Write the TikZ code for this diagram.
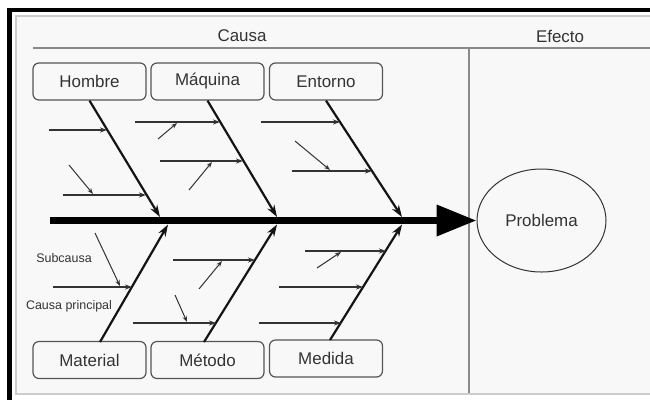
\documentclass[tikz,border=0pt]{standalone}
\usepackage{fontspec}
\setmainfont{Liberation Sans}
\usetikzlibrary{arrows.meta,shapes.geometric}
\definecolor{paper}{HTML}{F8F8F8}
\definecolor{framegray}{HTML}{CCCCCC}
\definecolor{rulegray}{HTML}{8A8A8A}
\definecolor{boxgray}{HTML}{555555}
\definecolor{ink}{HTML}{333333}
\begin{document}
\begin{tikzpicture}[x=1bp,y=-1bp,
  causebox/.style={draw=boxgray, line width=1.2bp, rounded corners=6bp,
    minimum width=113bp, minimum height=37bp, inner sep=0pt,
    font=\fontsize{17}{20}\selectfont, text=ink},
  header/.style={font=\fontsize{17}{20}\selectfont, text=ink},
  smalllabel/.style={font=\fontsize{12.5}{14}\selectfont, text=ink, inner sep=0pt},
  bone/.style={line width=2.2bp, draw=black!92, -{Stealth[length=12bp,width=8bp]}},
  subcause/.style={line width=1.4bp, draw=ink, -{Stealth[length=7bp,width=5bp]}},
  subsub/.style={line width=1bp, draw=ink, -{Stealth[length=6bp,width=4.5bp]}},
  spine/.style={line width=7bp, draw=black, -{Triangle[length=40bp,width=30bp]}}
]
\useasboundingbox (0,0) rectangle (650,400);
\fill[white] (0,0) rectangle (650,400);
% sheet and frame
\fill[paper] (16,16) rectangle (660,394);
\draw[framegray, line width=2bp] (660,15.5) -- (15.5,15.5) -- (15.5,394) -- (660,394);
\fill[black] (7,8) rectangle (650,12);
\fill[black] (7,8) rectangle (12,400);

% header
\draw[rulegray, line width=2bp] (33,48) -- (660,48);
\draw[rulegray, line width=1.5bp] (469,48) -- (469,393);
\node[header] (causa) at (242,36) {Causa};
\node[header] (efecto) at (560,36) {Efecto};

% cause boxes
\node[causebox] (hombre)   at (89.5,81.5) {Hombre};
\node[causebox] (maquina)  at (207.5,81.5) {Máquina};
\node[causebox] (entorno)  at (326,81.5) {Entorno};
\node[causebox] (material) at (89.5,360) {Material};
\node[causebox] (metodo)   at (207.5,360) {Método};
\node[causebox] (medida)   at (326,358.5) {Medida};

% effect
\node[ellipse, draw=ink, line width=1bp, minimum width=129bp, minimum height=103bp,
      font=\fontsize{17}{20}\selectfont, text=ink] (problema) at (541.5,220.5) {Problema};

% spine
\coordinate (tail) at (50,220.5);
\draw[spine] (tail) -- (problema.west);

% bone ends on the spine
\coordinate (t1) at (160,217);
\coordinate (t2) at (277,217);
\coordinate (t3) at (402,217);
\coordinate (b1) at (168,224.5);
\coordinate (b2) at (277,224.5);
\coordinate (b3) at (402,224.5);
\coordinate (m1) at (100,342);
\coordinate (m2) at (204,342);
\coordinate (m3) at (330,340);

\draw[bone] (hombre.south) -- (t1);
\draw[bone] (maquina.south) -- (t2);
\draw[bone] (entorno.south) -- (t3);
\draw[bone] (m1) -- (b1);
\draw[bone] (m2) -- (b2);
\draw[bone] (m3) -- (b3);

% Hombre
\coordinate (h1s) at (49,130);  \coordinate (h1e) at (107,130);
\coordinate (h2s) at (63,195);  \coordinate (h2e) at (146,195);
\coordinate (h3s) at (69,165);  \coordinate (h3e) at (93,194);
\draw[subcause] (h1s) -- (h1e);
\draw[subcause] (h2s) -- (h2e);
\draw[subsub] (h3s) -- (h3e);

% Maquina
\coordinate (q1s) at (135,122); \coordinate (q1e) at (220,122);
\coordinate (q2s) at (160,161); \coordinate (q2e) at (243,161);
\coordinate (q3s) at (158,139); \coordinate (q3e) at (177,123);
\coordinate (q4s) at (189,190); \coordinate (q4e) at (212,162);
\draw[subcause] (q1s) -- (q1e);
\draw[subcause] (q2s) -- (q2e);
\draw[subsub] (q3s) -- (q3e);
\draw[subsub] (q4s) -- (q4e);

% Entorno
\coordinate (e1s) at (261,122); \coordinate (e1e) at (340,122);
\coordinate (e2s) at (292,171); \coordinate (e2e) at (372,171);
\coordinate (e3s) at (295,141); \coordinate (e3e) at (330,170);
\draw[subcause] (e1s) -- (e1e);
\draw[subcause] (e2s) -- (e2e);
\draw[subsub] (e3s) -- (e3e);

% Material
\coordinate (a1s) at (53,287);  \coordinate (a1e) at (132,287);
\coordinate (a2s) at (95,233);  \coordinate (a2e) at (120,286);
\draw[subcause] (a1s) -- (a1e);
\draw[subsub] (a2s) -- (a2e);
\node[smalllabel] (subcausa) at (64,258) {Subcausa};
\node[smalllabel] (principal) at (69,306) {Causa principal};

% Metodo
\coordinate (o1s) at (173,260); \coordinate (o1e) at (255,260);
\coordinate (o2s) at (133,323); \coordinate (o2e) at (216,323);
\coordinate (o3s) at (199,289); \coordinate (o3e) at (222,261);
\coordinate (o4s) at (175,295); \coordinate (o4e) at (187,322);
\draw[subcause] (o1s) -- (o1e);
\draw[subcause] (o2s) -- (o2e);
\draw[subsub] (o3s) -- (o3e);
\draw[subsub] (o4s) -- (o4e);

% Medida
\coordinate (d1s) at (305,251); \coordinate (d1e) at (386,251);
\coordinate (d2s) at (279,287); \coordinate (d2e) at (363,287);
\coordinate (d3s) at (259,323); \coordinate (d3e) at (341,323);
\coordinate (d4s) at (317,268); \coordinate (d4e) at (341,252);
\draw[subcause] (d1s) -- (d1e);
\draw[subcause] (d2s) -- (d2e);
\draw[subcause] (d3s) -- (d3e);
\draw[subsub] (d4s) -- (d4e);
\end{tikzpicture}
\end{document}
